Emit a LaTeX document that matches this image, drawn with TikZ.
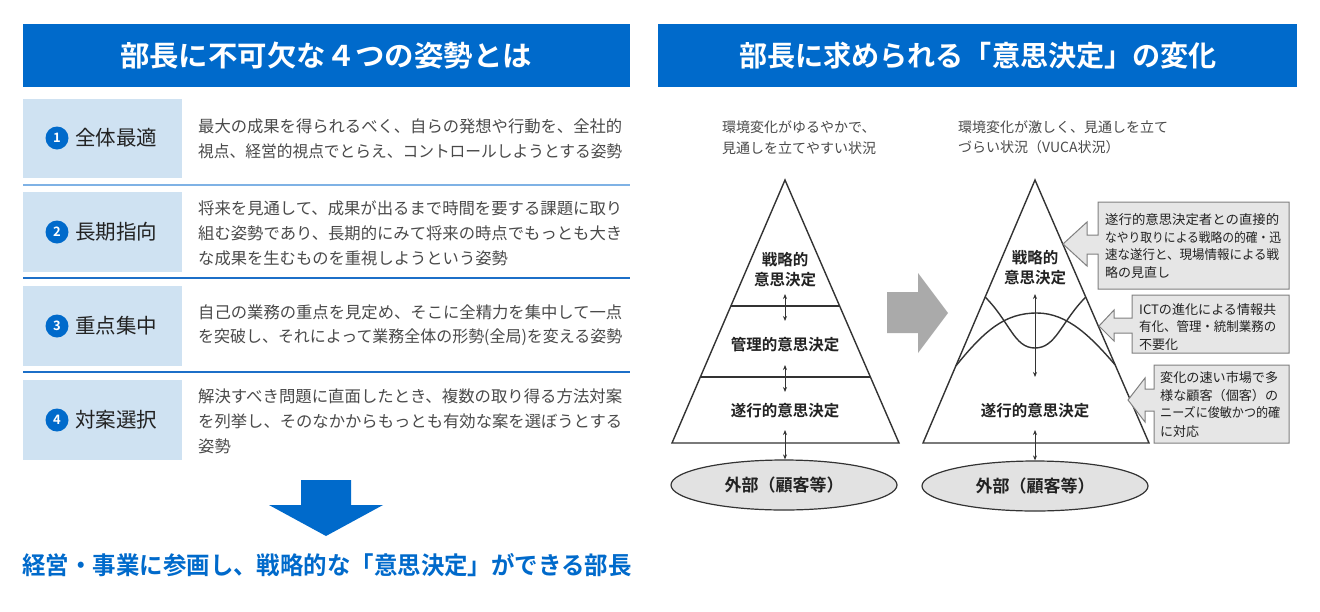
\documentclass[tikz,border=0pt]{standalone}
\usepackage{fontspec}
\setmainfont{Noto Sans CJK JP}[BoldFont={Noto Sans CJK JP Bold}]
\usetikzlibrary{arrows.meta,calc,shapes.geometric}
\definecolor{hblue}{HTML}{006ACB}
\definecolor{lblue}{HTML}{CFE2F2}
\definecolor{sepa}{HTML}{7FB2E5}
\definecolor{sepb}{HTML}{1C6FC8}
\definecolor{desctxt}{HTML}{4A4A4A}
\definecolor{labtxt}{HTML}{222222}
\definecolor{garrow}{HTML}{AAAAAA}
\definecolor{cfill}{HTML}{E6E6E6}
\definecolor{cdraw}{HTML}{808080}
\definecolor{efill}{HTML}{E2E2E2}
\definecolor{pline}{HTML}{333333}
\newcommand{\fitw}[2]{\resizebox{#1}{\height}{#2}}
\begin{document}
\begin{tikzpicture}[x=1pt,y=-1pt,
  header/.style={fill=hblue,draw=none},
  htitle/.style={inner sep=0,text=white,font=\bfseries\fontsize{28.5}{32}\selectfont},
  labbox/.style={fill=lblue,draw=none},
  num/.style={circle,fill=hblue,minimum size=23pt,inner sep=0,text=white,font=\bfseries\fontsize{13}{13}\selectfont},
  lab/.style={anchor=west,inner sep=0,text=labtxt,font=\fontsize{20.5}{24}\selectfont},
  desc/.style={anchor=west,inner sep=0,text=desctxt,font=\fontsize{16.3}{20}\selectfont},
  sepline/.style={line width=2pt},
  pyr/.style={draw=pline,line width=1.4pt},
  plab/.style={inner sep=0,text=labtxt,font=\bfseries\fontsize{15.5}{19}\selectfont},
  ptop/.style={anchor=west,inner sep=0,text=desctxt,font=\fontsize{14}{17}\selectfont},
  dbl/.style={{Stealth[length=5pt,width=4pt]}-{Stealth[length=5pt,width=4pt]},line width=0.9pt,draw=pline},
  ext/.style={ellipse,fill=efill,draw=pline,line width=1.2pt,minimum width=226pt,minimum height=50pt,inner sep=0,font=\bfseries\fontsize{17}{20}\selectfont,text=labtxt},
  callout/.style={fill=cfill,draw=cdraw,line width=1pt},
  ctxt/.style={anchor=west,inner sep=0,text=labtxt,font=\fontsize{13}{16}\selectfont},
  curve/.style={draw=pline,line width=1.4pt}
]
\useasboundingbox (0,0) rectangle (1320,611);
\fill[white] (0,0) rectangle (1320,611);

% ---------- left panel ----------
\fill[header] (23,24) rectangle (630,87);
\node[htitle] (ltitle) at (326,56) {\fitw{412pt}{部長に不可欠な４つの姿勢とは}};

\fill[labbox] (23,99) rectangle (182,178);
\fill[labbox] (23,192) rectangle (182,272);
\fill[labbox] (23,286) rectangle (182,366);
\fill[labbox] (23,380) rectangle (182,460);
\draw[sepline,draw=sepa] (23,184.5) -- (630,184.5);
\draw[sepline,draw=sepb] (23,278) -- (630,278);
\draw[sepline,draw=sepb] (23,372) -- (630,372);

\node[num] (n1) at (57,138) {1};
\node[lab] (l1) at (75,138) {全体最適};
\node[num] (n2) at (57,232) {2};
\node[lab] (l2) at (75,232) {長期指向};
\node[num] (n3) at (57,326) {3};
\node[lab] (l3) at (75,326) {重点集中};
\node[num] (n4) at (57,420) {4};
\node[lab] (l4) at (75,420) {対案選択};

\node[desc] (d1a) at (198,126) {\fitw{424pt}{最大の成果を得られるべく、自らの発想や行動を、全社的}};
\node[desc] (d1b) at (198,151) {\fitw{424pt}{視点、経営的視点でとらえ、コントロールしようとする姿勢}};
\node[desc] (d2a) at (198,208) {\fitw{424pt}{将来を見通して、成果が出るまで時間を要する課題に取り}};
\node[desc] (d2b) at (198,233) {\fitw{424pt}{組む姿勢であり、長期的にみて将来の時点でもっとも大き}};
\node[desc] (d2c) at (198,258) {な成果を生むものを重視しようという姿勢};
\node[desc] (d3a) at (198,312) {\fitw{424pt}{自己の業務の重点を見定め、そこに全精力を集中して一点}};
\node[desc] (d3b) at (198,337) {\fitw{424pt}{を突破し、それによって業務全体の形勢(全局)を変える姿勢}};
\node[desc] (d4a) at (198,396) {\fitw{424pt}{解決すべき問題に直面したとき、複数の取り得る方法対案}};
\node[desc] (d4b) at (198,421) {\fitw{424pt}{を列挙し、そのなかからもっとも有効な案を選ぼうとする}};
\node[desc] (d4c) at (198,446) {姿勢};

\fill[hblue] (301,480) -- (351,480) -- (351,505) -- (383,505) -- (326,536) -- (269,505) -- (301,505) -- cycle;
\node[inner sep=0,text=hblue,font=\bfseries\fontsize{24.4}{28}\selectfont] (concl) at (327,565) {\fitw{609pt}{経営・事業に参画し、戦略的な「意思決定」ができる部長}};

% ---------- right panel ----------
\fill[header] (658,24) rectangle (1297,87);
\node[htitle] (rtitle) at (978,56) {\fitw{478pt}{部長に求められる「意思決定」の変化}};

\node[ptop] (t1a) at (722,127) {環境変化がゆるやかで、};
\node[ptop] (t1b) at (722,148) {見通しを立てやすい状況};
\node[ptop] (t2a) at (958,127) {環境変化が激しく、見通しを立て};
\node[ptop] (t2b) at (958,147) {づらい状況（VUCA状況）};

% left pyramid
\coordinate (A1) at (785,180);
\coordinate (L1) at (672,443);
\coordinate (R1) at (899,443);
\draw[pyr,line join=miter] (A1) -- (L1) -- (R1) -- cycle;
\draw[pyr] ($(A1)!0.479!(L1)$) -- ($(A1)!0.479!(R1)$);
\draw[pyr] ($(A1)!0.749!(L1)$) -- ($(A1)!0.749!(R1)$);
\node[plab] (p1s1) at (785,260) {戦略的};
\node[plab] (p1s2) at (785,280) {意思決定};
\node[plab] (p1m) at (785,345) {管理的意思決定};
\node[plab] (p1e) at (785,411) {遂行的意思決定};
\coordinate (a1t) at (785,294);
\coordinate (a1b) at (785,321);
\coordinate (a2t) at (785,365);
\coordinate (a2b) at (785,392);
\coordinate (a3t) at (785,430);
\draw[dbl] (a1t) -- (a1b);
\draw[dbl] (a2t) -- (a2b);
\node[ext] (ext1) at (784,485) {外部（顧客等）};
\draw[dbl] (a3t) -- (a3t |- ext1.north);

% gray arrow
\fill[garrow] (887,292) -- (918,292) -- (918,273) -- (948,313) -- (918,353) -- (918,333) -- (887,333) -- cycle;

% right pyramid
\coordinate (A2) at (1035,180);
\coordinate (L2) at (923,443);
\coordinate (R2) at (1149,443);
\draw[pyr,line join=miter] (A2) -- (L2) -- (R2) -- cycle;
\coordinate (cA1) at ($(A2)!0.707!(L2)$);
\coordinate (cA2) at ($(A2)!0.703!(R2)$);
\coordinate (cB1) at ($(A2)!0.445!(L2)$);
\coordinate (cB2) at ($(A2)!0.445!(R2)$);
\draw[curve] (cA1) .. controls (985,330) and (1005,313) .. (1037,313) .. controls (1068,313) and (1092,338) .. (cA2);
\draw[curve] (cB1) .. controls (1010,322) and (1014,348) .. (1035,348) .. controls (1056,348) and (1061,322) .. (cB2);
\node[plab] (p2s1) at (1035,258) {戦略的};
\node[plab] (p2s2) at (1035,278) {意思決定};
\node[plab] (p2e) at (1035,411) {遂行的意思決定};
\coordinate (b1t) at (1035,294);
\coordinate (b1b) at (1035,377);
\coordinate (b3t) at (1035,430);
\draw[dbl] (b1t) -- (b1b);
\node[ext] (ext2) at (1035,486) {外部（顧客等）};
\draw[dbl] (b3t) -- (b3t |- ext2.north);

% callouts
\draw[callout,line join=miter] (1098,202) -- (1289,202) -- (1289,289) -- (1098,289) -- (1098,254) -- (1087,254) -- (1087,266) -- (1063,244) -- (1087,222) -- (1087,235) -- (1098,235) -- cycle;
\node[ctxt] (c1a) at (1105,220) {\fitw{174pt}{遂行的意思決定者との直接的}};
\node[ctxt] (c1b) at (1105,238) {\fitw{176pt}{なやり取りによる戦略の的確・迅}};
\node[ctxt] (c1c) at (1105,255) {\fitw{174pt}{速な遂行と、現場情報による戦}};
\node[ctxt] (c1d) at (1105,273) {略の見直し};

\draw[callout,line join=miter] (1132,295) -- (1289,295) -- (1289,353) -- (1132,353) -- (1132,333) -- (1114,333) -- (1114,341) -- (1099,326) -- (1114,310) -- (1114,318) -- (1132,318) -- cycle;
\node[ctxt] (c2a) at (1139,310) {\fitw{137pt}{ICTの進化による情報共}};
\node[ctxt] (c2b) at (1139,327) {\fitw{137pt}{有化、管理・統制業務の}};
\node[ctxt] (c2c) at (1139,345) {不要化};

\draw[callout,line join=miter] (1154,365) -- (1289,365) -- (1289,443) -- (1154,443) -- (1154,411) -- (1145,411) -- (1145,422) -- (1128,400) -- (1145,378) -- (1145,389) -- (1154,389) -- cycle;
\node[ctxt] (c3a) at (1160,378) {\fitw{118pt}{変化の速い市場で多}};
\node[ctxt] (c3b) at (1160,396) {\fitw{118pt}{様な顧客（個客）の}};
\node[ctxt] (c3c) at (1160,413) {\fitw{120pt}{ニーズに俊敏かつ的確}};
\node[ctxt] (c3d) at (1160,432) {に対応};
\end{tikzpicture}
\end{document}
